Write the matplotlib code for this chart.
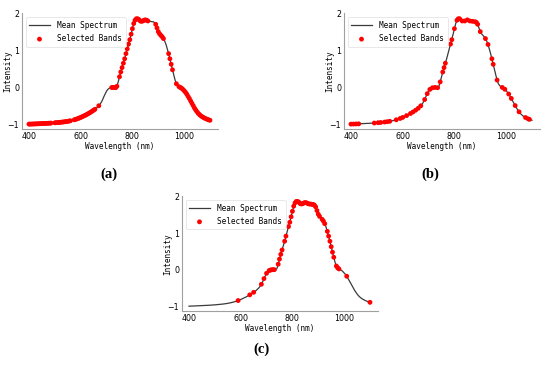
import numpy as np
import matplotlib.pyplot as plt

# wavelengths (nm) on a 5 nm grid, with the mean spectrum
wavelengths = list(range(400, 1101, 5))
mean_spectrum = [
    -1.000, -1.000, -0.998, -0.996, -0.995, -0.993, -0.992, -0.990, -0.989, -0.987,
    -0.985, -0.983, -0.981, -0.980, -0.978, -0.976, -0.974, -0.972, -0.970, -0.967,
    -0.964, -0.961, -0.958, -0.955, -0.951, -0.947, -0.943, -0.939, -0.934, -0.929,
    -0.923, -0.916, -0.909, -0.901, -0.892, -0.882, -0.871, -0.859, -0.846, -0.832,
    -0.817, -0.801, -0.785, -0.768, -0.750, -0.731, -0.711, -0.690, -0.668, -0.645,
    -0.621, -0.596, -0.568, -0.536, -0.500, -0.455, -0.400, -0.330, -0.245, -0.170,
    -0.100, -0.055, -0.025, -0.010, -0.003, 0.000, 0.000, -0.008, 0.030, 0.150,
    0.290, 0.420, 0.540, 0.660, 0.780, 0.920, 1.050, 1.180, 1.300, 1.450,
    1.600, 1.740, 1.830, 1.870, 1.870, 1.850, 1.810, 1.800, 1.810, 1.830,
    1.840, 1.830, 1.810, 1.800, 1.800, 1.790, 1.790, 1.770, 1.720, 1.620,
    1.520, 1.460, 1.420, 1.380, 1.330, 1.260, 1.170, 1.050, 0.920, 0.780,
    0.630, 0.480, 0.340, 0.200, 0.100, 0.050, 0.020, 0.000, -0.020, -0.050,
    -0.090, -0.130, -0.180, -0.240, -0.300, -0.365, -0.430, -0.495, -0.560, -0.615,
    -0.665, -0.710, -0.745, -0.775, -0.800, -0.820, -0.840, -0.855, -0.870, -0.885,
    -0.895,
]

# (a): selected band ranges (inclusive, nm)
bands_a_ranges = [(400, 485), (500, 560), (575, 655), (670, 670), (720, 740),
                  (750, 860), (890, 920), (940, 955), (970, 970), (980, 1100)]

# (b) and (c): selected wavelengths
bands_b = [400, 410, 420, 430, 490, 505, 515, 530, 540, 550, 575, 590, 600, 615,
           630, 640, 650, 660, 670, 685, 695, 705, 715, 725, 735, 745, 755, 760,
           765, 785, 790, 800, 810, 815, 820, 830, 840, 850, 860, 870, 880, 885,
           890, 900, 920, 930, 945, 950, 965, 985, 995, 1010, 1020, 1035, 1050,
           1075, 1085, 1090]
bands_c = [590, 635, 650, 680, 690, 700, 710, 715, 720, 725, 730, 745, 750, 755,
           760, 770, 775, 785, 790, 795, 800, 805, 810, 815, 820, 825, 830, 835,
           840, 845, 850, 855, 860, 865, 870, 875, 880, 885, 890, 895, 900, 905,
           915, 920, 925, 935, 940, 945, 950, 955, 960, 970, 975, 980, 1010, 1100]

panel_labels = ['(a)', '(b)', '(c)']

wl = np.array(wavelengths)
spec = np.array(mean_spectrum)

mask_a = np.zeros(len(wl), dtype=bool)
for lo, hi in bands_a_ranges:
    mask_a |= (wl >= lo) & (wl <= hi)
masks = [mask_a, np.isin(wl, bands_b), np.isin(wl, bands_c)]

W, H = 550, 371
fig = plt.figure(figsize=(5.5, 3.71), dpi=100)

# axes boxes in pixels: left, top, right, bottom
boxes = [(22, 13.5, 218, 129.4), (344, 13.5, 540, 129.4), (182, 196.2, 378, 311.4)]
label_pos = [(109, 174), (430, 174), (261, 349)]

mono = ['DejaVu Sans Mono']

for box, mask, lab, lp in zip(boxes, masks, panel_labels, label_pos):
    l, t, r, b = box
    ax = fig.add_axes([l / W, 1 - b / H, (r - l) / W, (b - t) / H])
    ax.plot(wl, spec, color='#3a3a3a', lw=0.9, label='Mean Spectrum', zorder=2)
    ax.scatter(wl[mask], spec[mask], s=12, color='red', edgecolors='none',
               label='Selected Bands', zorder=3)
    ax.set_xlim(373, 1131)
    ax.set_xticks([400, 600, 800, 1000])
    ax.set_yticks([-1, 0, 1, 2])
    ax.tick_params(length=0, pad=2, labelsize=5.7)
    for side in ['top', 'right']:
        ax.spines[side].set_visible(False)
    for side in ['left', 'bottom']:
        ax.spines[side].set_color('#a0a0a0')
        ax.spines[side].set_linewidth(0.8)
    ax.set_xlabel('Wavelength (nm)', family=mono, fontsize=5.5, labelpad=0.5)
    ax.set_ylabel('Intensity', family=mono, fontsize=5.5)
    ax.yaxis.set_label_coords(-10 / (r - l), 0.5)
    leg = ax.legend(loc='upper left', prop={'family': mono, 'size': 5.6},
                    handlelength=2.6, borderaxespad=0.5, labelspacing=0.55,
                    frameon=True, fancybox=True, borderpad=0.45, handletextpad=1.0)
    leg.get_frame().set_edgecolor('#dddddd')
    leg.get_frame().set_linewidth(0.6)
    fig.text(lp[0] / W, 1 - lp[1] / H, lab, ha='center', va='center',
             family='Liberation Serif', fontweight='bold', fontsize=10.5)

fig.savefig('out.png', dpi=100)
